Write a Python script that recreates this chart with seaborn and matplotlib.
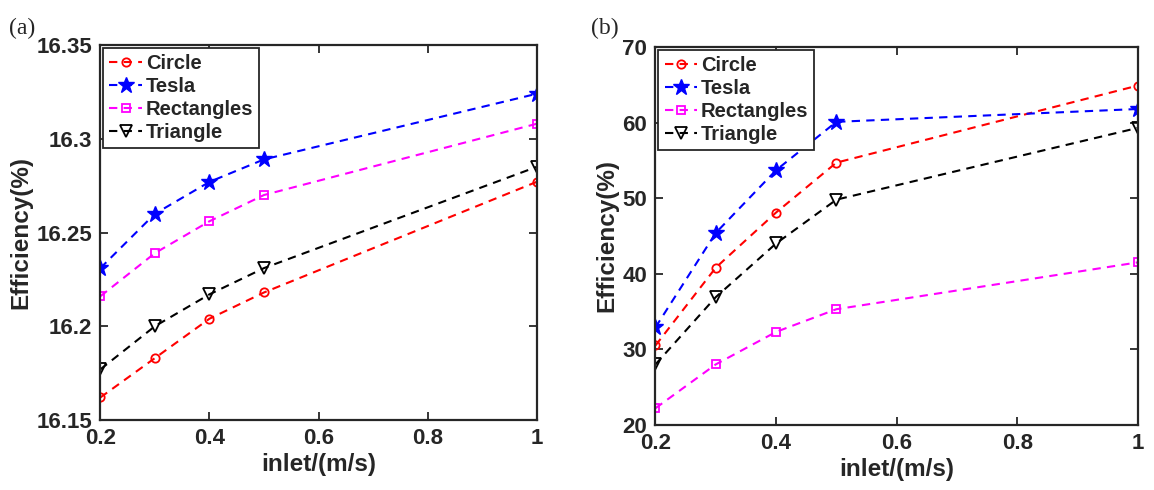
import matplotlib
matplotlib.use("Agg")
import matplotlib.pyplot as plt
import seaborn as sns
import pandas as pd

inlet = [0.2, 0.3, 0.4, 0.5, 1.0]
series_names = ["Circle", "Tesla", "Rectangles", "Triangle"]

# Panel (a)
a_circle = [16.162, 16.183, 16.204, 16.218, 16.277]
a_tesla = [16.231, 16.260, 16.277, 16.289, 16.324]
a_rect = [16.216, 16.239, 16.256, 16.270, 16.308]
a_tri = [16.177, 16.200, 16.217, 16.231, 16.285]

# Panel (b)
b_circle = [30.5, 40.8, 48.1, 54.7, 64.9]
b_tesla = [32.9, 45.4, 53.7, 60.1, 61.8]
b_rect = [22.2, 28.0, 32.3, 35.3, 41.5]
b_tri = [28.0, 36.9, 44.0, 49.8, 59.3]

xticks = [0.2, 0.4, 0.6, 0.8, 1.0]
xticklabels = ["0.2", "0.4", "0.6", "0.8", "1"]
a_yticks = [16.15, 16.2, 16.25, 16.3, 16.35]
a_yticklabels = ["16.15", "16.2", "16.25", "16.3", "16.35"]
b_yticks = [20, 30, 40, 50, 60, 70]
b_yticklabels = ["20", "30", "40", "50", "60", "70"]

sns.set_style("ticks")
plt.rcParams['font.family'] = ['Liberation Sans', 'DejaVu Sans']
plt.rcParams['font.weight'] = 'bold'

styles = {
    "Circle": dict(color="#ff0000", marker="o", markersize=6, markerfacecolor="none",
                   markeredgecolor="#ff0000", markeredgewidth=1.3),
    "Tesla": dict(color="#0000ff", marker="*", markersize=12, markerfacecolor="#0000ff",
                  markeredgecolor="#0000ff", markeredgewidth=1.0),
    "Rectangles": dict(color="#ff00ff", marker="s", markersize=6, markerfacecolor="none",
                       markeredgecolor="#ff00ff", markeredgewidth=1.3),
    "Triangle": dict(color="#000000", marker="v", markersize=8, markerfacecolor="none",
                     markeredgecolor="#000000", markeredgewidth=1.3),
}

fig = plt.figure(figsize=(11.54, 4.9), dpi=100)
ax_a = fig.add_axes([0.087, 0.143, 0.378, 0.765])
ax_b = fig.add_axes([0.568, 0.133, 0.418, 0.771])

def draw(ax, data, yticks, yticklabels, ylim):
    for name, vals in zip(series_names, data):
        df = pd.DataFrame({"inlet": inlet, "eff": vals})
        st = styles[name]
        sns.lineplot(data=df, x="inlet", y="eff", ax=ax, label=name,
                     linestyle=(0, (4, 3)), linewidth=1.5, **st)
    ax.set_xlim(0.2, 1.0)
    ax.set_ylim(*ylim)
    ax.set_xticks(xticks)
    ax.set_xticklabels(xticklabels)
    ax.set_yticks(yticks)
    ax.set_yticklabels(yticklabels)
    ax.tick_params(direction="in", top=True, right=True, length=6, width=1.3,
                   labelsize=16, colors="#262626", pad=6)
    for lab in ax.get_xticklabels() + ax.get_yticklabels():
        lab.set_fontweight("bold")
    for sp in ax.spines.values():
        sp.set_visible(True)
        sp.set_linewidth(1.6)
        sp.set_color("#262626")
    ax.set_xlabel("inlet/(m/s)", fontsize=17.5, fontweight="bold", color="#262626", labelpad=3)
    ax.set_ylabel("Efficiency(%)", fontsize=17.5, fontweight="bold", color="#262626", labelpad=3)
    leg = ax.legend(loc="upper left", fontsize=14.5, frameon=True, fancybox=False,
                    borderaxespad=0.15, handlelength=1.6, handletextpad=0.2,
                    labelspacing=0.2, borderpad=0.3)
    leg.get_frame().set_edgecolor("#262626")
    leg.get_frame().set_linewidth(1.3)
    leg.get_frame().set_alpha(1.0)
    for t in leg.get_texts():
        t.set_fontweight("bold")

draw(ax_a, [a_circle, a_tesla, a_rect, a_tri], a_yticks, a_yticklabels, (16.15, 16.35))
draw(ax_b, [b_circle, b_tesla, b_rect, b_tri], b_yticks, b_yticklabels, (20, 70))

fig.text(0.008, 0.93, "(a)", fontsize=17, family="Liberation Serif", fontweight="normal")
fig.text(0.512, 0.93, "(b)", fontsize=17, family="Liberation Serif", fontweight="normal")

fig.savefig("out.png", dpi=100, facecolor="white")
